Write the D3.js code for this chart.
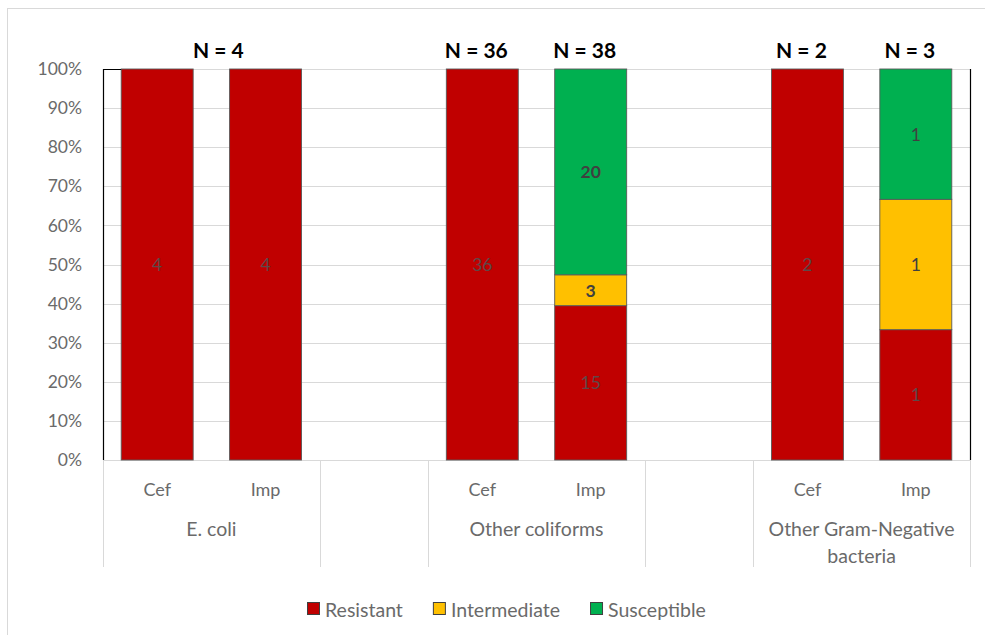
<!DOCTYPE html>
<html>
<head>
<meta charset="utf-8">
<script src="https://cdn.jsdelivr.net/npm/d3@7"></script>
<style>
  html, body { margin: 0; padding: 0; background: #fff; }
  svg { display: block; font-family: Lato, "Open Sans", sans-serif; }
</style>
</head>
<body>
<svg id="chart" width="985" height="635"></svg>
<script>
// Organism groups and the two antibiotics tested within each
const groups = ["E. coli", "Other coliforms", "Other Gram-Negative bacteria"];
const drugs = ["Cef", "Imp"];

// Isolate counts per bar, in order: group x drug
const resistant    = [4, 4, 36, 15, 2, 1];
const intermediate = [0, 0, 0, 3, 0, 1];
const susceptible  = [0, 0, 0, 20, 0, 1];

// Sample-size annotations shown above the bars
const nLabels  = ["N = 4", "N = 36", "N = 38", "N = 2", "N = 3"];
const nTargets = ["E. coli", "Other coliforms|Cef", "Other coliforms|Imp",
                  "Other Gram-Negative bacteria|Cef", "Other Gram-Negative bacteria|Imp"];

const yTicks = [0, 0.1, 0.2, 0.3, 0.4, 0.5, 0.6, 0.7, 0.8, 0.9, 1];
const seriesNames = ["Resistant", "Intermediate", "Susceptible"];
const seriesColors = ["#c00000", "#ffc000", "#00b050"];

// Build rows; an empty spacer slot separates consecutive groups
const rows = [];
const slots = [];
groups.forEach((g, gi) => {
  drugs.forEach((d, di) => {
    const i = gi * drugs.length + di;
    const key = g + "|" + d;
    rows.push({ key, group: g, drug: d,
      Resistant: resistant[i], Intermediate: intermediate[i], Susceptible: susceptible[i] });
    slots.push(key);
  });
  if (gi < groups.length - 1) slots.push("spacer" + gi);
});
rows.forEach(r => { r.total = r.Resistant + r.Intermediate + r.Susceptible; });

const svg = d3.select("#chart");
const plotLeft = 103, plotRight = 970, plotTop = 69, plotBottom = 460;

const x = d3.scaleBand().domain(slots).range([plotLeft, plotRight])
  .paddingInner(0.336).paddingOuter(0.168);
const y = d3.scaleLinear().domain([0, 1]).range([plotBottom, plotTop]);
const slotEnd = key => x(key) + x.bandwidth() + x.step() * x.paddingInner() / 2;

// Outer chart frame
svg.append("rect").attr("x", 7.5).attr("y", 8.5).attr("width", 1000).attr("height", 700)
  .attr("fill", "none").attr("stroke", "#d9d9d9");

// Gridlines
svg.append("g").selectAll("line").data(yTicks).join("line")
  .attr("x1", plotLeft).attr("x2", plotRight)
  .attr("y1", d => Math.round(y(d)) + 0.5).attr("y2", d => Math.round(y(d)) + 0.5)
  .attr("stroke", "#d9d9d9").attr("stroke-width", 1);

// Y axis with percentage labels
const yAxis = svg.append("g").attr("transform", `translate(${plotLeft},0)`)
  .call(d3.axisLeft(y).tickValues(yTicks).tickFormat(d3.format(".0%")).tickSize(0).tickPadding(21));
yAxis.select(".domain").remove();
yAxis.selectAll("text").attr("fill", "#6a6a6a").style("font-size", "17.5px")
  .style("font-family", "Lato, 'Open Sans', sans-serif");

// Stacked bars
const stack = d3.stack().keys(seriesNames)
  .value((d, k) => d[k] / d.total);
const layers = stack(rows);

const barG = svg.append("g");
layers.forEach((layer, li) => {
  barG.append("g").selectAll("rect").data(layer.filter(s => s[1] > s[0])).join("rect")
    .attr("x", s => x(s.data.key))
    .attr("width", x.bandwidth())
    .attr("y", s => y(s[1]))
    .attr("height", s => y(s[0]) - y(s[1]))
    .attr("fill", seriesColors[li])
    .attr("stroke", "#5a5a5a").attr("stroke-width", 0.9);
});

// Segment count labels
layers.forEach((layer, li) => {
  const name = seriesNames[li];
  svg.append("g").selectAll("text").data(layer.filter(s => s[1] > s[0])).join("text")
    .attr("x", s => x(s.data.key) + x.bandwidth() / 2)
    .attr("y", s => (y(s[0]) + y(s[1])) / 2)
    .attr("text-anchor", "middle").attr("dominant-baseline", "central")
    .attr("fill", name === "Resistant" ? "#5e4848" : "#404040")
    .style("font-size", "17.5px")
    .style("font-weight", s => (name !== "Resistant" && s.data.total > 10) ? "bold" : "normal")
    .text(s => s.data[name]);
});

// Plot frame: left axis and right edge
svg.append("line").attr("x1", plotLeft + 0.5).attr("x2", plotLeft + 0.5).attr("y1", plotTop).attr("y2", plotBottom)
  .attr("stroke", "#000").attr("stroke-width", 1.2);
svg.append("line").attr("x1", plotRight + 0.5).attr("x2", plotRight + 0.5).attr("y1", plotTop).attr("y2", plotBottom)
  .attr("stroke", "#000").attr("stroke-width", 1.2);
svg.append("line").attr("x1", plotLeft).attr("x2", x(slots[0])).attr("y1", plotTop + 0.5).attr("y2", plotTop + 0.5)
  .attr("stroke", "#000").attr("stroke-width", 1);

// Category axis: separators at each group edge and spacer edge
const catBottom = 567;
const boundaries = [plotLeft];
slots.forEach((s, i) => {
  const next = slots[i + 1];
  if (s.startsWith("spacer") || next === undefined || next.startsWith("spacer"))
    boundaries.push(slotEnd(s));
});
svg.append("g").selectAll("line").data(boundaries).join("line")
  .attr("x1", d => Math.round(d) + 0.5).attr("x2", d => Math.round(d) + 0.5)
  .attr("y1", plotBottom).attr("y2", catBottom)
  .attr("stroke", "#d9d9d9").attr("stroke-width", 1);

// Drug labels
svg.append("g").selectAll("text").data(rows).join("text")
  .attr("x", d => x(d.key) + x.bandwidth() / 2)
  .attr("y", 489)
  .attr("text-anchor", "middle").attr("dominant-baseline", "central")
  .attr("fill", "#6a6a6a").style("font-size", "18px")
  .text(d => d.drug);

// Group labels, long names wrapped onto a second line
const groupCenter = g => (x(g + "|" + drugs[0]) + x(g + "|" + drugs[drugs.length - 1]) + x.bandwidth()) / 2;
const groupText = svg.append("g").selectAll("text").data(groups).join("text")
  .attr("x", groupCenter)
  .attr("y", 528)
  .attr("text-anchor", "middle").attr("dominant-baseline", "central")
  .attr("fill", "#6a6a6a").style("font-size", "19.5px");
groupText.each(function (g) {
  const t = d3.select(this);
  const cx = t.attr("x");
  const words = g.split(" ");
  const lines = g.length > 20 ? [words.slice(0, 2).join(" "), words.slice(2).join(" ")] : [g];
  lines.forEach((ln, i) => t.append("tspan").attr("x", cx).attr("dy", i === 0 ? 0 : 27).text(ln));
});

// Sample-size annotations
svg.append("g").selectAll("text").data(nLabels).join("text")
  .attr("x", (d, i) => {
    const tgt = nTargets[i];
    if (tgt.includes("|")) return x(tgt) + x.bandwidth() / 2 - 6;
    return groupCenter(tgt) + 7;
  })
  .attr("y", 49)
  .attr("text-anchor", "middle").attr("dominant-baseline", "central")
  .attr("fill", "#000").style("font-size", "21px").style("font-weight", "bold")
  .text(d => d);

// Legend
const legend = svg.append("g");
let lx = 307;
seriesNames.forEach((name, i) => {
  const item = legend.append("g").attr("transform", `translate(${lx},0)`);
  item.append("rect").attr("x", 0.5).attr("y", 602.5).attr("width", 12).attr("height", 12)
    .attr("fill", seriesColors[i]).attr("stroke", "#404040").attr("stroke-width", 1);
  const t = item.append("text").attr("x", 18).attr("y", 609)
    .attr("dominant-baseline", "central").attr("fill", "#6a6a6a").style("font-size", "19.5px")
    .text(name);
  lx += 18 + t.node().getComputedTextLength() + 30;
});
</script>
</body>
</html>
